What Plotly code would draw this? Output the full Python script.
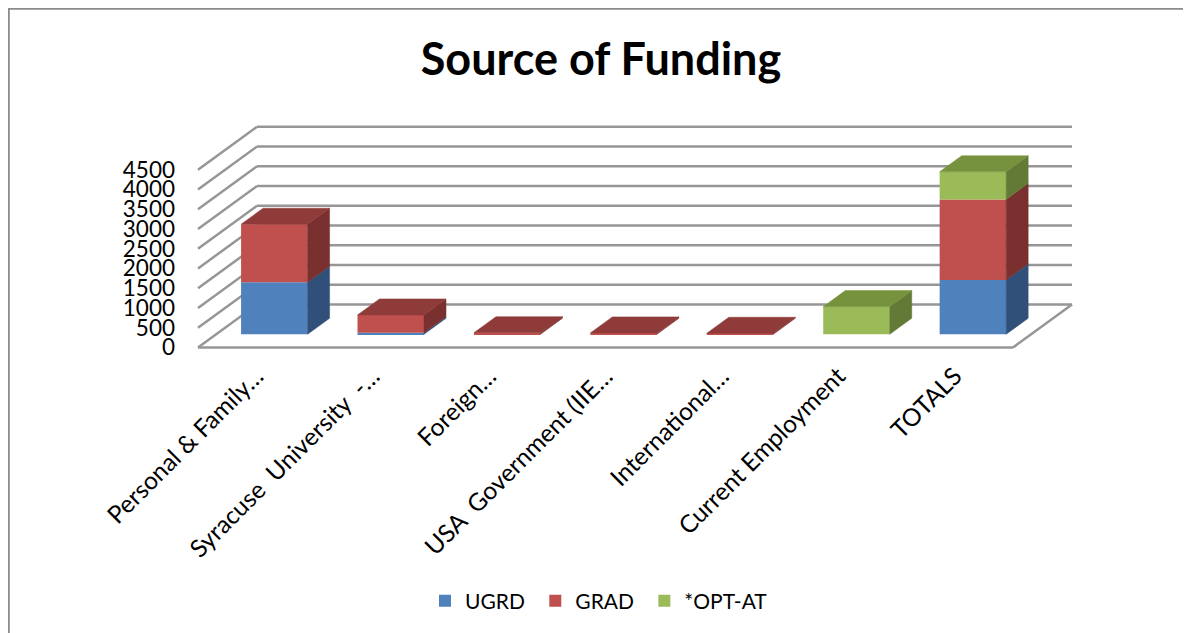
import plotly.graph_objects as go

# ---------------- data ----------------
categories = ["Personal & Family…", "Syracuse\u00a0 University\u00a0 -…", "Foreign…",
              "USA\u00a0 Government (IIE…", "International…", "Current Employment", "TOTALS"]
ugrd = [1316, 40, 0, 0, 0, 0, 1375]
grad = [1470, 450, 40, 35, 25, 0, 2040]
opt_at = [0, 0, 0, 0, 0, 700, 700]
y_ticks = [0, 500, 1000, 1500, 2000, 2500, 3000, 3500, 4000, 4500]
series_names = ["UGRD", "GRAD", "*OPT-AT"]

# ---------------- style / geometry ----------------
front_cols = ["#4F81BD", "#C0504D", "#9BBB59"]
top_cols = ["#3A6090", "#8E3B39", "#76923D"]
side_cols = ["#30507A", "#7A302E", "#637A36"]
FONT = "Lato"
OFF = 8                   # page body margin
W, H = 1191 - OFF, 633 - OFF
PX_CAT = 116.43          # px per category
PX_UNIT = 0.0395         # px per value unit
FLOOR_X0_PX, FLOOR_Y0_PX = 198 - OFF, 347.5 - OFF
PLOT_L, PLOT_R, PLOT_T, PLOT_B = 192 - OFF, 1075 - OFF, 110 - OFF, 352 - OFF
DEPTH_DX = 59 / PX_CAT   # full depth in category units
DEPTH_DY = 43 / PX_UNIT  # full depth in value units
F_FRONT, F_BACK = 0.307, 0.68
BAR_W = 66.5 / PX_CAT
GRID_COL = "#969696"

x_lo = -0.5 - (FLOOR_X0_PX - PLOT_L) / PX_CAT
x_hi = -0.5 + (PLOT_R - FLOOR_X0_PX) / PX_CAT
y_lo = -(PLOT_B - FLOOR_Y0_PX) / PX_UNIT
y_hi = (FLOOR_Y0_PX - PLOT_T) / PX_UNIT
n = len(categories)
xl, xr = -0.5, n - 0.5


def px_to_paper_x(px):
    return (px - OFF - PLOT_L) / (PLOT_R - PLOT_L)


def px_to_paper_y(py):
    return (PLOT_B - (py - OFF)) / (PLOT_B - PLOT_T)


fig = go.Figure()
shapes = []

# walls & floor
gl = dict(color=GRID_COL, width=2.5)
for v in y_ticks:
    shapes.append(dict(type="line", xref="x", yref="y", x0=xl, y0=v, x1=xl + DEPTH_DX, y1=v + DEPTH_DY,
                       line=gl, layer="below"))
    shapes.append(dict(type="line", xref="x", yref="y", x0=xl + DEPTH_DX, y0=v + DEPTH_DY,
                       x1=xr + DEPTH_DX, y1=v + DEPTH_DY, line=gl, layer="below"))
shapes.append(dict(type="line", xref="x", yref="y", x0=xl, y0=0, x1=xr, y1=0, line=gl, layer="below"))
shapes.append(dict(type="line", xref="x", yref="y", x0=xr, y0=0, x1=xr + DEPTH_DX, y1=DEPTH_DY,
                   line=gl, layer="below"))

# outer border (figure edge)
shapes.append(dict(type="rect", xref="paper", yref="paper", x0=px_to_paper_x(OFF + 0.8), x1=px_to_paper_x(1220),
                   y0=px_to_paper_y(660), y1=px_to_paper_y(OFF + 0.8), line=dict(color="#8C8C8C", width=2),
                   fillcolor="rgba(0,0,0,0)", layer="below"))

# bars
fdx, fdy = F_FRONT * DEPTH_DX, F_FRONT * DEPTH_DY
bdx, bdy = (F_BACK - F_FRONT) * DEPTH_DX, (F_BACK - F_FRONT) * DEPTH_DY
all_vals = [ugrd, grad, opt_at]
bases = [[0] * n for _ in range(3)]
for i in range(n):
    c = 0
    for s in range(3):
        bases[s][i] = c
        c += all_vals[s][i]

for s in range(3):
    fig.add_trace(go.Bar(
        name=series_names[s] + "\u00a0", x=[i + fdx for i in range(n)], y=all_vals[s],
        base=[b + fdy for b in bases[s]], width=BAR_W,
        marker=dict(color=front_cols[s], line=dict(width=0)), hoverinfo="skip"))

for i in range(n):
    top_s = max([s for s in range(3) if all_vals[s][i] > 0], default=None)
    for s in range(3):
        v = all_vals[s][i]
        if v <= 0:
            continue
        x0 = i + fdx - BAR_W / 2
        x1 = i + fdx + BAR_W / 2
        b = bases[s][i] + fdy
        t = b + v
        fig.add_trace(go.Scatter(x=[x1, x1 + bdx, x1 + bdx, x1, x1], y=[b, b + bdy, t + bdy, t, b],
                                 fill="toself", fillcolor=side_cols[s], mode="lines",
                                 line=dict(color=side_cols[s], width=0.5), showlegend=False, hoverinfo="skip"))
        if s == top_s:
            fig.add_trace(go.Scatter(x=[x0, x1, x1 + bdx, x0 + bdx, x0], y=[t, t, t + bdy, t + bdy, t],
                                     fill="toself", fillcolor=top_cols[s], mode="lines",
                                     line=dict(color=top_cols[s], width=0.5), showlegend=False,
                                     hoverinfo="skip"))

fig.update_layout(
    width=W, height=H, barmode="overlay", plot_bgcolor="white", paper_bgcolor="white",
    margin=dict(l=PLOT_L, r=W - PLOT_R, t=PLOT_T, b=H - PLOT_B, autoexpand=False),
    title=dict(text="<b>Source of Funding</b>", x=(601 - OFF) / W, xanchor="center", xref="container",
               y=1 - (59 - OFF) / H, yanchor="middle", yref="container",
               font=dict(family=FONT, size=45, color="black")),
    xaxis=dict(range=[x_lo, x_hi], tickvals=list(range(n)), ticktext=categories, tickangle=-45,
               showgrid=False, zeroline=False, showline=False, ticks="", ticklabelstandoff=4,
               tickfont=dict(family=FONT, size=24.5, color="black")),
    yaxis=dict(range=[y_lo, y_hi], tickvals=y_ticks, showgrid=False, zeroline=False, showline=False,
               ticks="", ticklabelstandoff=16, tickfont=dict(family=FONT, size=22.5, color="black")),
    legend=dict(orientation="h", x=px_to_paper_x(425), xanchor="left", y=px_to_paper_y(601),
                yanchor="middle", font=dict(family=FONT, size=21, color="black")),
    shapes=shapes, showlegend=True,
)

fig.write_html("out.html")
